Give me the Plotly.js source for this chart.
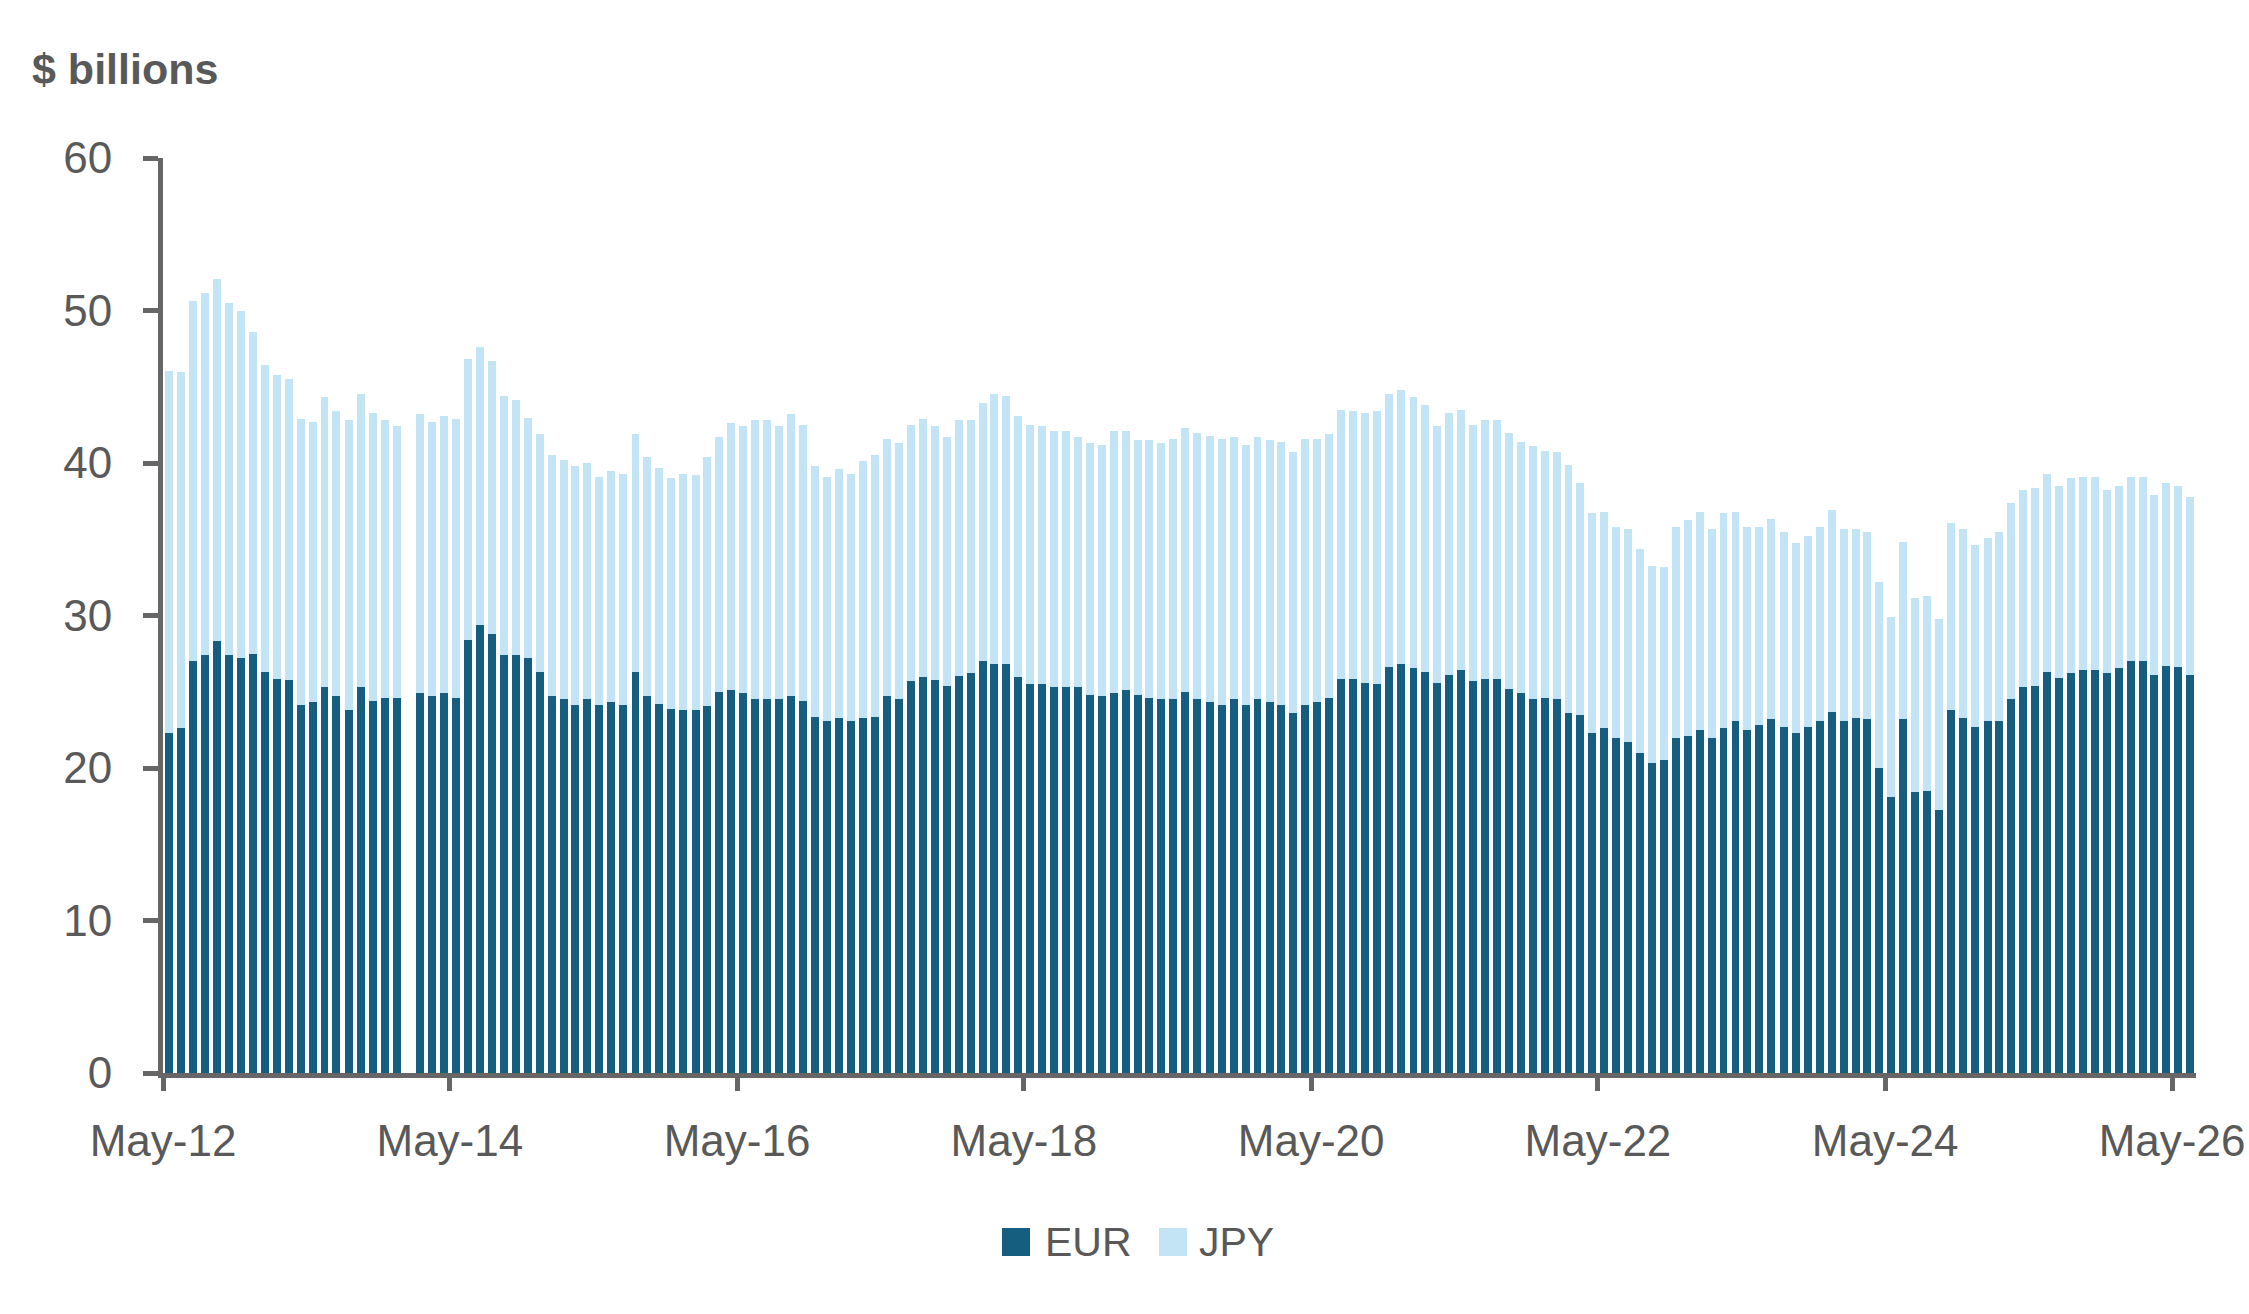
<!DOCTYPE html>
<html>
<head>
<meta charset="utf-8">
<script src="https://cdn.plot.ly/plotly-3.0.1.min.js"></script>
<style>
  html, body { margin: 0; padding: 0; background: #ffffff; }
  #grafico { width: 2249px; height: 1314px; }
</style>
</head>
<body>
<div id="grafico"></div>
<script>
// Saldos mensuales en $ billions, de May-12 a Jun-26 (una fila por año).
// Ene-14 no tiene dato: queda como null y se ve el hueco.
const PRIMER_MES = { anio: 2012, mes: 5 };

const eur = [
  22.3, 22.65, 27.0, 27.4, 28.3, 27.4, 27.2, 27.5,
  26.3, 25.85, 25.8, 24.15, 24.3, 25.3, 24.7, 23.8, 25.3, 24.4, 24.6, 24.6,
  null, 24.9, 24.75, 24.95, 24.6, 28.4, 29.4, 28.8, 27.4, 27.4, 27.2, 26.3,
  24.75, 24.55, 24.1, 24.55, 24.1, 24.35, 24.15, 26.3, 24.75, 24.2, 23.9, 23.8,
  23.8, 24.05, 25.0, 25.1, 24.9, 24.55, 24.55, 24.55, 24.7, 24.4, 23.35, 23.1,
  23.3, 23.05, 23.3, 23.35, 24.7, 24.5, 25.7, 26.0, 25.8, 25.4, 26.05, 26.25,
  27.0, 26.8, 26.85, 26.0, 25.5, 25.5, 25.3, 25.3, 25.3, 24.8, 24.7, 24.9,
  25.1, 24.8, 24.6, 24.5, 24.5, 25.0, 24.5, 24.3, 24.15, 24.5, 24.15, 24.5,
  24.3, 24.15, 23.6, 24.1, 24.3, 24.6, 25.85, 25.85, 25.6, 25.5, 26.6, 26.8,
  26.55, 26.3, 25.6, 26.1, 26.45, 25.7, 25.85, 25.85, 25.2, 24.95, 24.55, 24.6,
  24.55, 23.6, 23.5, 22.3, 22.6, 21.95, 21.7, 21.0, 20.3, 20.5, 21.95, 22.1,
  22.5, 21.95, 22.65, 23.05, 22.5, 22.85, 23.2, 22.7, 22.3, 22.7, 23.1, 23.65,
  23.1, 23.25, 23.2, 20.0, 18.1, 23.2, 18.4, 18.5, 17.25, 23.8, 23.25, 22.7,
  23.05, 23.1, 24.55, 25.3, 25.35, 26.3, 25.9, 26.25, 26.45, 26.45, 26.25, 26.55,
  27.0, 27.0, 26.1, 26.7, 26.65, 26.1,
];

const jpy = [
  23.75, 23.35, 23.6, 23.75, 23.75, 23.1, 22.8, 21.1,
  20.1, 19.95, 19.7, 18.75, 18.4, 19.05, 18.7, 19.0, 19.2, 18.85, 18.2, 17.85,
  null, 18.3, 17.95, 18.15, 18.3, 18.4, 18.2, 17.9, 17.0, 16.7, 15.78, 15.6,
  15.8, 15.65, 15.7, 15.45, 15.0, 15.15, 15.1, 15.6, 15.65, 15.5, 15.1, 15.5,
  15.4, 16.35, 16.7, 17.5, 17.5, 18.25, 18.3, 17.9, 18.5, 18.1, 16.45, 16.0,
  16.3, 16.25, 16.8, 17.15, 16.85, 16.8, 16.8, 16.9, 16.6, 16.3, 16.75, 16.55,
  16.95, 17.7, 17.55, 17.1, 17.0, 16.9, 16.8, 16.8, 16.4, 16.5, 16.45, 17.2,
  17.0, 16.7, 16.9, 16.8, 17.1, 17.3, 17.5, 17.5, 17.45, 17.2, 17.05, 17.2,
  17.2, 17.25, 17.15, 17.45, 17.3, 17.3, 17.65, 17.55, 17.7, 17.9, 17.9, 18.0,
  17.8, 17.5, 16.85, 17.15, 17.05, 16.8, 17.0, 17.0, 16.8, 16.4, 16.55, 16.2,
  16.2, 16.25, 15.2, 14.4, 14.2, 13.85, 13.95, 13.35, 12.95, 12.7, 13.85, 14.15,
  14.3, 13.7, 14.05, 13.75, 13.3, 12.95, 13.1, 12.8, 12.45, 12.5, 12.7, 13.25,
  12.55, 12.4, 12.3, 12.2, 11.8, 11.6, 12.75, 12.8, 12.55, 12.25, 12.4, 11.9,
  12.05, 12.4, 12.8, 12.9, 13.0, 12.95, 12.6, 12.75, 12.65, 12.65, 11.95, 11.95,
  12.1, 12.05, 11.8, 12.0, 11.85, 11.7,
];

const SERIES = ['EUR', 'JPY'];
const COLORES = { EUR: '#165e80', JPY: '#c3e4f4' };

// Eje X: un mes por barra, empezando en PRIMER_MES
const meses = eur.map((_, i) => {
  const total = PRIMER_MES.mes - 1 + i;
  const anio = PRIMER_MES.anio + Math.floor(total / 12);
  const mes = (total % 12) + 1;
  return `${anio}-${String(mes).padStart(2, '0')}-01`;
});

const ultimo = new Date(meses[meses.length - 1] + 'T00:00:00Z');
ultimo.setUTCMonth(ultimo.getUTCMonth() + 1);
const finRango = ultimo.toISOString().slice(0, 10);

const FUENTE = '"Liberation Sans", Arial, sans-serif';
const GRIS_TEXTO = '#595959';
const GRIS_EJE = '#666666';
const ANCHO_BARRA = 20.3 * 24 * 3600 * 1000; // ~2/3 de un mes

const W = 2249, H = 1314;
const M = { l: 163, r: 53, t: 158, b: 241 };
// pixeles de la figura -> coordenadas 'paper' (solo para la leyenda)
const px = (x) => (x - M.l) / (W - M.l - M.r);
const py = (y) => (H - M.b - y) / (H - M.t - M.b);

const trazas = [
  {
    x: meses, y: eur, name: 'EUR', type: 'bar',
    marker: { color: COLORES.EUR, line: { width: 0 } },
  },
  {
    x: meses, y: jpy, name: 'JPY', type: 'bar',
    marker: { color: COLORES.JPY, line: { width: 0 } },
  },
].map((t) => ({
  ...t,
  xperiod: 'M1',
  xperiodalignment: 'middle',
  width: ANCHO_BARRA,
  hovertemplate: `${t.name}: %{y:.1f}<extra></extra>`,
}));

// Leyenda dibujada a mano: cuadrados grandes como en el original
const leyenda = [
  { serie: 'EUR', cuadro: 1002, texto: 1043 },
  { serie: 'JPY', cuadro: 1159, texto: 1197 },
];
const shapes = leyenda.map((l) => ({
  type: 'rect', xref: 'paper', yref: 'paper',
  x0: px(l.cuadro), x1: px(l.cuadro + 28),
  y0: py(1256), y1: py(1228),
  fillcolor: COLORES[l.serie], line: { width: 0 },
}));
const annotations = leyenda.map((l) => ({
  xref: 'paper', yref: 'paper',
  x: px(l.texto), y: py(1242), xanchor: 'left', yanchor: 'middle',
  text: l.serie, showarrow: false,
  font: { family: FUENTE, size: 41, color: GRIS_TEXTO },
}));

const layout = {
  width: W, height: H,
  barmode: 'stack',
  bargap: 0,
  showlegend: false,
  margin: M,
  paper_bgcolor: '#ffffff',
  plot_bgcolor: '#ffffff',
  font: { family: FUENTE, size: 44, color: GRIS_TEXTO },
  title: {
    text: '<b>$ billions</b>',
    xref: 'container', yref: 'container',
    x: 32 / W, xanchor: 'left',
    y: 1 - 54 / H, yanchor: 'top',
    font: { family: FUENTE, size: 43, color: GRIS_TEXTO },
  },
  xaxis: {
    type: 'date',
    range: [meses[0], finRango],
    tick0: meses[0],
    dtick: 'M24',
    tickformat: '%b-%y',
    ticks: 'outside', ticklen: 13, tickwidth: 5, tickcolor: GRIS_EJE,
    ticklabelstandoff: 12,
    showline: true, linewidth: 5, linecolor: GRIS_EJE,
    showgrid: false, zeroline: false,
    tickfont: { family: FUENTE, size: 44, color: GRIS_TEXTO },
  },
  yaxis: {
    range: [0, 60],
    tick0: 0, dtick: 10,
    ticks: 'outside', ticklen: 15, tickwidth: 5, tickcolor: GRIS_EJE,
    ticklabelstandoff: 22,
    showline: true, linewidth: 5, linecolor: GRIS_EJE,
    showgrid: false, zeroline: false,
    tickfont: { family: FUENTE, size: 44, color: GRIS_TEXTO },
  },
  shapes,
  annotations,
};

Plotly.newPlot('grafico', trazas, layout, { displayModeBar: false, responsive: false });
</script>
</body>
</html>
